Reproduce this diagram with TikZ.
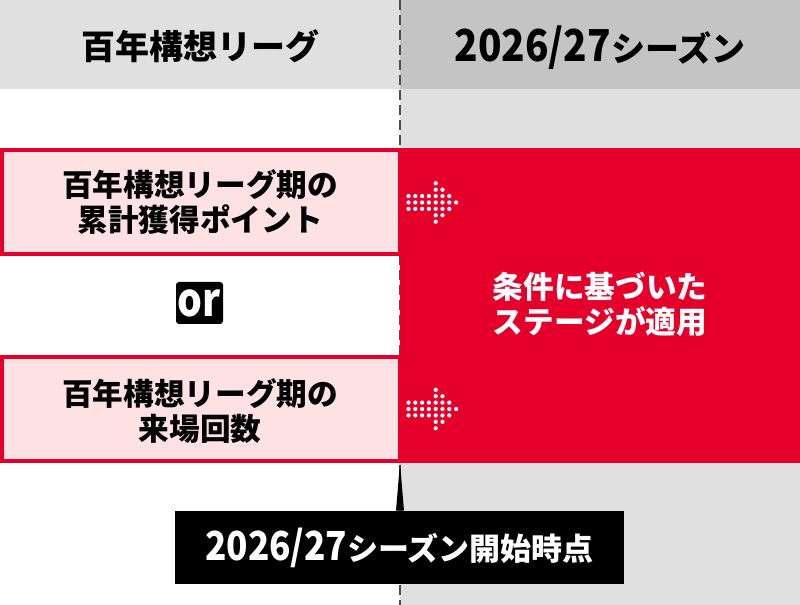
\documentclass[tikz,border=0pt]{standalone}
\usepackage{fontspec}
\setmainfont{Noto Sans CJK JP}
\usepackage{graphicx}
\usetikzlibrary{calc}
\definecolor{jred}{HTML}{E4002B}
\definecolor{jpink}{HTML}{FDE1E3}
\definecolor{lgray}{HTML}{E0E0E0}
\definecolor{dgray}{HTML}{C4C4C4}
\definecolor{dashgray}{HTML}{4D4D4D}
\tikzset{
entrybox/.style = {fill=jpink,draw=jred,line width=3pt},
divider/.style = {line width=1.5pt,color=dashgray,dash pattern=on 7.5pt off 3.75pt},
head/.style = {font=\fontsize{25.5}{28}\selectfont\bfseries,text=black,inner sep=0pt},
body/.style = {font=\fontsize{23}{26.25}\selectfont\bfseries,align=center,inner sep=0pt},
orbox/.style = {fill=black,text=white,rounded corners=2.25pt,inner sep=0pt,minimum width=35.25pt,minimum height=31.5pt,font=\fontsize{34.5}{34.5}\selectfont\bfseries},
callout/.style = {fill=black,text=white,inner sep=0pt,minimum width=336.75pt,minimum height=54.75pt,font=\fontsize{23.25}{26}\selectfont\bfseries},
dot/.style = {fill=white,draw=none}
}
\newcommand{\bignum}[2]{{\fontsize{#1}{#1}\selectfont\scalebox{0.88}[1]{#2}}}
\begin{document}
\begin{tikzpicture}[x=0.75pt,y=-0.75pt]
\useasboundingbox (0,0) rectangle (800,605);
%
\def\xmid{400}
\def\yhead{89}
\def\ytop{148}
\def\ybot{463}
\def\arrowlist{202.5,409}
%
% header and columns
\fill[lgray] (0,0) rectangle (\xmid,\yhead);
\fill[dgray] (\xmid,0) rectangle (800,\yhead);
\fill[lgray] (\xmid,\yhead) rectangle (800,605);
%
\draw[divider] (\xmid,0) -- (\xmid,605);
%
\fill[jred] (\xmid,\ytop) rectangle (800,\ybot);
\draw[entrybox] (2,150) rectangle (\xmid,254);
\draw[entrybox] (2,357) rectangle (\xmid,461);
%
\node[head] (lefthead) at (200,46) {百年構想リーグ};
\node[head,anchor=base] (righthead) at (600,62) {\bignum{33}{2026/27}シーズン};
%
\node[body] (points) at (200,202.5) {百年構想リーグ期の\\累計獲得ポイント};
\node[orbox] (or) at (199.5,303) {\scalebox{0.85}[1]{or}};
\node[body] (visits) at (200,411) {百年構想リーグ期の\\来場回数};
\node[body,text=white] (stage) at (600,304.5) {条件に基づいた\\ステージが適用};
%
% dotted arrows
\foreach \yc in \arrowlist {
\foreach \c in {0,...,7} {
\foreach \r in {-3,...,3} {
\pgfmathtruncatemacro{\show}{((\c<7)&&(abs(\r)<=1)) || ((\c>=4)&&(abs(\r)<=7-\c))}
\ifnum\show=1 \fill[dot] (408.5+6.8*\c,\yc+6.4*\r) circle[radius=1.6pt]; \fi
}}}
%
% season start
\node[callout] (start) at (399.5,547.5) {\bignum{30}{2026/27}シーズン開始時点};
\coordinate (tip) at (\xmid,\ybot);
\fill[black] (tip) -- ($(tip |- start.north)+(-4,0)$) -- ($(tip |- start.north)+(4,0)$) -- cycle;
%
\end{tikzpicture}
\end{document}
